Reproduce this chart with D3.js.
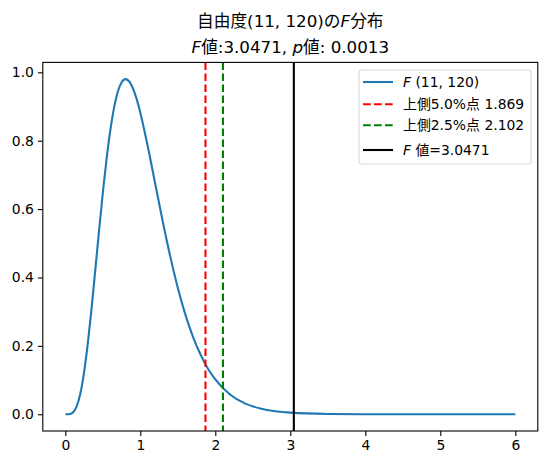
<!DOCTYPE html>
<html>
<head>
<meta charset="utf-8">
<script src="https://cdn.jsdelivr.net/npm/d3@7"></script>
<style>
  body { margin: 0; background: #fff; }
  text { font-family: "DejaVu Sans", "Noto Sans CJK JP", sans-serif; }
</style>
</head>
<body>
<script>
// F(11, 120) density
var fx = [0, 0.05, 0.1, 0.15, 0.2, 0.25, 0.3, 0.35, 0.4, 0.45, 0.5, 0.55, 0.6, 0.65, 0.7, 0.75,
  0.8, 0.85, 0.9, 0.95, 1.0, 1.1, 1.2, 1.3, 1.4, 1.5, 1.6, 1.7, 1.8, 1.9, 2.0, 2.2, 2.4,
  2.6, 2.8, 3.0, 3.5, 4.0, 4.5, 5.0, 5.5, 6.0];
var fy = [0, 0.0002, 0.0048, 0.0221, 0.060, 0.122, 0.207, 0.309, 0.422, 0.537, 0.647, 0.746, 0.830, 0.896, 0.943, 0.970,
  0.980, 0.974, 0.954, 0.923, 0.882, 0.783, 0.673, 0.563, 0.461, 0.370, 0.292, 0.228, 0.176, 0.134, 0.102, 0.057, 0.031,
  0.017, 0.009, 0.0047, 0.0009, 0.0002, 0.00004, 0.00001, 0, 0];

var crit05 = 1.869;
var crit025 = 2.102;
var fValue = 3.0471;

var xTicks = [0, 1, 2, 3, 4, 5, 6];
var yTicks = [0, 0.2, 0.4, 0.6, 0.8, 1.0];

var legendLabels = ["F (11, 120)", "上側5.0%点 1.869", "上側2.5%点 2.102", "F 値=3.0471"];

function drawChart() {
  var w = 547, h = 465;
  var mLeft = 42.8, mRight = 537.8, mTop = 62.4, mBottom = 431;

  var svg = d3.select("body").append("svg")
    .attr("width", w)
    .attr("height", h);

  var x = d3.scaleLinear().domain([-0.3, 6.3]).range([mLeft, mRight]);
  var y = d3.scaleLinear().domain([-0.049, 1.029]).range([mBottom, mTop]);

  // axes
  var xAxis = svg.append("g")
    .attr("transform", "translate(0," + mBottom + ")")
    .call(d3.axisBottom(x).tickValues(xTicks).tickFormat(d3.format("d")).tickSizeOuter(0).tickSize(4.9).tickPadding(4));
  var yAxis = svg.append("g")
    .attr("transform", "translate(" + mLeft + ",0)")
    .call(d3.axisLeft(y).tickValues(yTicks).tickFormat(d3.format(".1f")).tickSizeOuter(0).tickSize(4.9).tickPadding(4));

  [xAxis, yAxis].forEach(function (g) {
    g.select(".domain").remove();
    g.selectAll("line").attr("stroke", "#000").attr("stroke-width", 1.1);
    g.selectAll("text").attr("font-size", 13.9).attr("fill", "#000")
      .style("font-family", "DejaVu Sans");
  });

  // curve
  var line = d3.line()
    .x(function (d, i) { return x(fx[i]); })
    .y(function (d) { return y(d); })
    .curve(d3.curveMonotoneX);

  var plot = svg.append("g");

  plot.append("path")
    .datum(fy)
    .attr("d", line)
    .attr("fill", "none")
    .attr("stroke", "#1f77b4")
    .attr("stroke-width", 2.1);

  var vlines = [
    { v: crit05, color: "#ff0000", dash: "7.7,3.3" },
    { v: crit025, color: "#008000", dash: "7.7,3.3" },
    { v: fValue, color: "#000000", dash: null }
  ];

  plot.selectAll(".vline")
    .data(vlines)
    .enter()
    .append("line")
    .attr("class", "vline")
    .attr("x1", function (d) { return x(d.v); })
    .attr("x2", function (d) { return x(d.v); })
    .attr("y1", mTop)
    .attr("y2", mBottom)
    .attr("stroke", function (d) { return d.color; })
    .attr("stroke-width", 2.1)
    .attr("stroke-dasharray", function (d) { return d.dash; });

  // frame
  svg.append("rect")
    .attr("x", mLeft).attr("y", mTop)
    .attr("width", mRight - mLeft).attr("height", mBottom - mTop)
    .attr("fill", "none")
    .attr("stroke", "#000")
    .attr("stroke-width", 1.1);

  // title
  var cx = (mLeft + mRight) / 2;
  var title = svg.append("text")
    .attr("text-anchor", "middle")
    .attr("font-size", 16.7)
    .attr("fill", "#000");
  var t1 = title.append("tspan").attr("x", cx).attr("y", 27);
  t1.append("tspan").text("自由度(11, 120)の");
  t1.append("tspan").attr("font-style", "italic").text("F");
  t1.append("tspan").text("分布");
  var t2 = title.append("tspan").attr("x", cx).attr("y", 53);
  t2.append("tspan").attr("font-style", "italic").text("F");
  t2.append("tspan").text("値:3.0471, ");
  t2.append("tspan").attr("font-style", "italic").text("p");
  t2.append("tspan").text("値: 0.0013");

  // legend
  var legend = svg.append("g");
  legend.append("rect")
    .attr("x", 359).attr("y", 70)
    .attr("width", 172).attr("height", 94)
    .attr("rx", 2.5)
    .attr("fill", "#fff")
    .attr("fill-opacity", 0.8)
    .attr("stroke", "#d9d9d9")
    .attr("stroke-width", 1.1);

  var rowsY = [82, 104.3, 125.3, 150];
  var legendItems = [
    { color: "#1f77b4", dash: null },
    { color: "#ff0000", dash: "7.7,3.3" },
    { color: "#008000", dash: "7.7,3.3" },
    { color: "#000000", dash: null }
  ];

  legendItems.forEach(function (d, i) {
    legend.append("line")
      .attr("x1", 363).attr("x2", 393)
      .attr("y1", rowsY[i]).attr("y2", rowsY[i])
      .attr("stroke", d.color)
      .attr("stroke-width", 2.1)
      .attr("stroke-dasharray", d.dash);
    var t = legend.append("text")
      .attr("x", 403)
      .attr("y", rowsY[i] + 5)
      .attr("font-size", 13.9)
      .attr("fill", "#000");
    var label = legendLabels[i];
    if (label.charAt(0) === "F") {
      t.append("tspan").attr("font-style", "italic").text("F");
      t.append("tspan").text(label.slice(1));
    } else {
      t.text(label);
    }
  });
}

drawChart();
</script>
</body>
</html>
